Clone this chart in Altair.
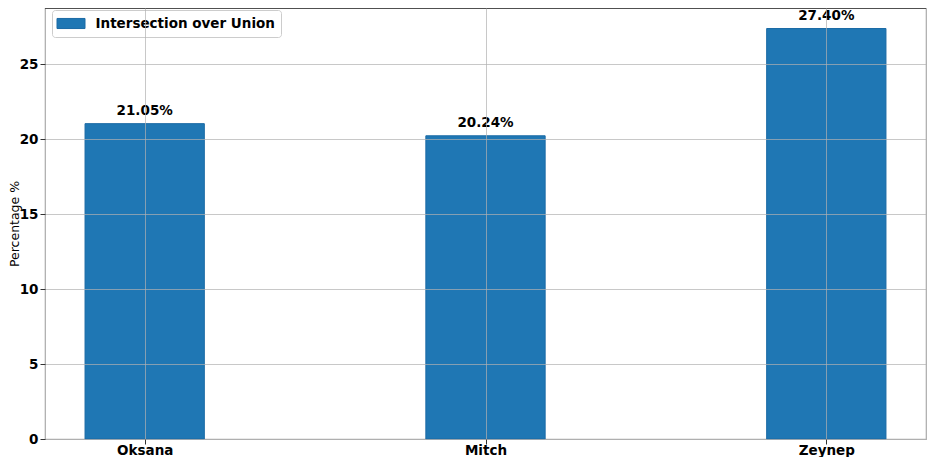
import altair as alt
import pandas as pd

names = ["Oksana", "Mitch", "Zeynep"]
values = [21.05, 20.24, 27.40]
series_name = "Intersection over Union"
bar_width = 0.35

df = pd.DataFrame({
    "idx": list(range(len(names))),
    "name": names,
    "value": values,
})
df["x0"] = df["idx"] - bar_width / 2
df["x1"] = df["idx"] + bar_width / 2
df["label"] = [f"{v:.2f}%" for v in values]
df["series"] = series_name

W, H = 881, 431
PAD = {"left": 37, "top": 0, "right": 1, "bottom": 18}
ymax = max(values) * 1.05
xpad = (len(names) - 1 + bar_width) * 0.05
xdom = [-bar_width / 2 - xpad, len(names) - 1 + bar_width / 2 + xpad]

label_expr = "[" + ",".join(f"'{n}'" for n in names) + "][datum.value]"
FONT = "DejaVu Sans"

xscale = alt.Scale(domain=xdom, nice=False, zero=False)
yscale = alt.Scale(domain=[0, ymax], nice=False)

bars = alt.Chart(df).mark_bar(stroke="#1b6aa5", strokeWidth=1).encode(
    x=alt.X("x0:Q", scale=xscale, title=None,
            axis=alt.Axis(values=list(range(len(names))), labelExpr=label_expr,
                          grid=True, domain=False, zindex=1,
                          labelBaseline="alphabetic", labelPadding=10)),
    x2="x1:Q",
    y=alt.Y("value:Q", scale=yscale, title="Percentage %",
            axis=alt.Axis(values=[0, 5, 10, 15, 20, 25], grid=True, domain=False,
                          zindex=1, labelPadding=2, titleX=-30.5, titleY=H / 2,
                          titleAngle=-90, titleAlign="center",
                          titleBaseline="middle", titleFontSize=12.5)),
    y2=alt.datum(0),
    color=alt.Color("series:N", scale=alt.Scale(range=["#1f77b4"]),
                    legend=alt.Legend(title=None, orient="none", legendX=7, legendY=2,
                                      symbolType="M-2,-0.72L2,-0.72L2,0.72L-2,0.72Z",
                                      symbolSize=196, symbolStrokeColor="#1b6aa5",
                                      symbolStrokeWidth=1, symbolOffset=5.5,
                                      labelOffset=17, labelLimit=0,
                                      padding=6, cornerRadius=3,
                                      strokeColor="#cccccc",
                                      fillColor="rgba(255,255,255,0.8)",
                                      labelFont=FONT, labelFontSize=13.5,
                                      labelFontWeight="bold", labelColor="black")),
)

texts = alt.Chart(df).mark_text(
    font=FONT, fontSize=13.5, fontWeight="bold", color="black",
    baseline="alphabetic", dy=-9,
).encode(
    x=alt.X("idx:Q", scale=xscale),
    y=alt.Y("value:Q", scale=yscale),
    text="label:N",
)

top_rule = alt.Chart(df).mark_rule(color="#444444", strokeWidth=1).encode(
    y=alt.value(0)
)

chart = alt.layer(bars, texts, top_rule).properties(
    width=W, height=H,
    autosize=alt.AutoSizeParams(type="none"),
    padding=PAD,
).configure_view(
    stroke="#aaaaaa", strokeWidth=1.2
).configure_axis(
    labelFont=FONT, labelFontSize=13.5, labelFontWeight="bold", labelColor="black",
    tickColor="#333333", tickSize=5,
    gridColor="#b0b0b0", gridOpacity=0.7, gridWidth=1,
    titleFont=FONT, titleFontSize=13, titleFontWeight="normal", titleColor="black",
)

chart.save("out.html", embed_options={"renderer": "svg", "actions": False})
